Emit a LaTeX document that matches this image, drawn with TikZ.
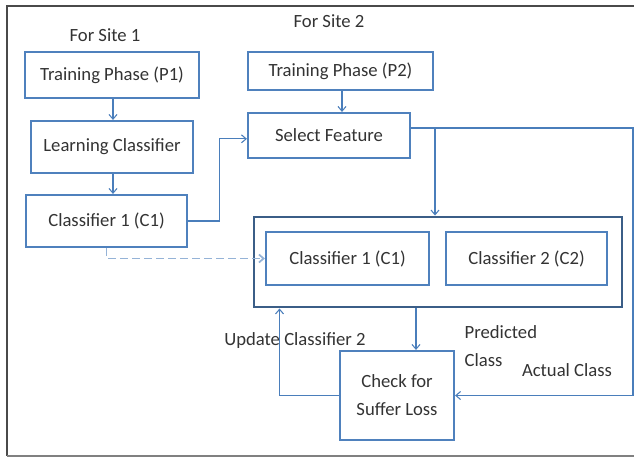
\documentclass[tikz,border=0pt]{standalone}
\usepackage{fontspec}
\setmainfont{Carlito}
\usetikzlibrary{positioning,arrows.meta}

\definecolor{boxblue}{HTML}{4F81BD}
\definecolor{groupblue}{HTML}{3B5E87}
\definecolor{lineblue}{HTML}{4A7EBB}
\definecolor{dashblue}{HTML}{95B3D7}
\definecolor{textgray}{HTML}{333333}
\definecolor{framegray}{HTML}{4A4A4A}

\begin{document}
\begin{tikzpicture}[x=0.75pt, y=-0.75pt,
  every node/.style={text=textgray, font=\fontsize{14}{21}\selectfont},
  box/.style 2 args={draw=boxblue, line width=1.6pt, inner sep=0pt,
    minimum width=#1*0.75pt, minimum height=#2*0.75pt, align=center},
  conn/.style={draw=lineblue, line width=0.8pt,
    -{Straight Barb[length=3.5pt, width=6pt]}}]
  \useasboundingbox (0,0) rectangle (634,457);

  % Outer frame (right side runs off the picture)
  \draw[framegray, line width=1.8pt] (634,6) -- (7,6) -- (7,456);
  \draw[framegray!70, line width=1.2pt] (7,456) -- (634,456);

  % Site 1
  \node (site1) at (105,35) {For Site 1};
  \node[box={174}{46}] (p1) at (112,75) {Training Phase (P1)};
  \node[box={162}{52}] (learn) at (112,147) {Learning Classifier};
  \node[box={161}{52}] (cA) at (106.5,221) {Classifier 1 (C1)};

  % Site 2
  \node (site2) at (329,21) {For Site 2};
  \node[box={185}{38}] (p2) at (340.5,71) {Training Phase (P2)};
  \node[box={162}{45}] (sel) at (329,135.5) {Select Feature};

  % Classifier group
  \node[draw=groupblue, line width=2.2pt, minimum width=368*0.75pt,
    minimum height=90*0.75pt] (group) at (438,262) {};
  \node[box={163}{53}] (cB) at (347.5,258.5) {Classifier 1 (C1)};
  \node[box={161}{53}] (cC) at (526.5,258.5) {Classifier 2 (C2)};

  % Loss check
  \node[box={114}{89}] (loss) at (397,395.5) {Check for\\Suffer Loss};

  % Labels
  \node (upd) at (295,341) {Update Classifier 2};
  \node[anchor=west, align=left] (pred) at (460,346) {Predicted\\Class};
  \node (actual) at (567,370) {Actual Class};

  % Connectors
  \coordinate (fork) at (435,128);
  \coordinate (rt) at (633,128);
  \coordinate (pc) at (416,330);
  \draw[conn] (p1.south -| 113,0) -- (learn.north -| 113,0);
  \draw[conn] (learn.south -| 113,0) -- (cA.north -| 113,0);
  \draw[conn] (cA.east) -- ++(31,0) |- ([yshift=-2.5pt]sel.west);
  \draw[conn, draw=dashblue, line width=1.3pt, dash pattern=on 6pt off 3pt]
    (cA.south) |- (cB.west);
  \draw[conn] (p2.south -| 342,0) -- (sel.north -| 342,0);
  \draw[conn] (sel.east |- fork) -| (group.north -| fork);
  \draw[conn] (fork) -- (rt) |- (loss.east);
  \draw[conn] (group.south -| pc) -- (loss.north -| pc);
  \draw[conn] (loss.west) -| ([xshift=20.25pt]group.south west);
\end{tikzpicture}
\end{document}
